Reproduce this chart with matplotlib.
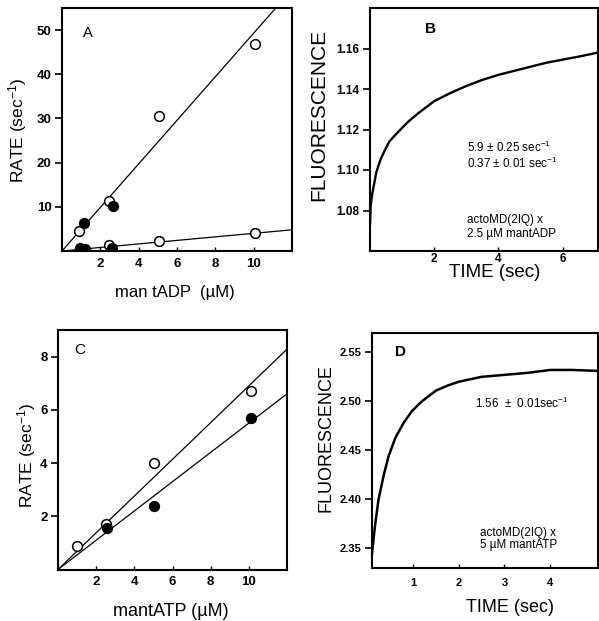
import matplotlib
matplotlib.use('Agg')
import matplotlib.pyplot as plt

plt.rcParams['font.family'] = ['Liberation Sans', 'DejaVu Sans']
plt.rcParams['mathtext.default'] = 'regular'

# --- A: rate vs mantADP (fast and slow phases) ---
a_open_x = [0.9, 2.45, 5.05, 10.05]
a_open_fast = [4.6, 11.4, 30.5, 46.8]
a_open_slow_x = [0.95, 2.45, 5.05, 10.05]
a_open_slow = [0.7, 1.3, 2.2, 4.0]
a_fill_x = [1.15, 2.65]
a_fill_fast = [6.3, 10.2]
a_fill_slow_x = [0.95, 1.2, 2.62]
a_fill_slow = [0.5, 0.5, 0.7]
a_slopes = [4.93, 0.40]

# --- B: fluorescence trace, 2.5 uM mantADP ---
b_time = [0.0, 0.02, 0.05, 0.09, 0.14, 0.19, 0.26, 0.35, 0.47, 0.6, 0.77, 0.95,
          1.2, 1.5, 2.0, 2.5, 3.0, 3.5, 4.0, 4.5, 5.0, 5.5, 6.0, 6.5, 7.1]
b_fluor = [1.073, 1.082, 1.086, 1.090, 1.094, 1.0985, 1.102, 1.106, 1.110, 1.114,
           1.117, 1.120, 1.124, 1.128, 1.134, 1.138, 1.1415, 1.1445, 1.147, 1.149,
           1.151, 1.153, 1.1545, 1.156, 1.158]

# --- C: rate vs mantATP ---
c_open_x = [1.0, 2.5, 5.05, 10.1]
c_open_y = [0.9, 1.7, 4.0, 6.7]
c_fill_x = [2.55, 5.05, 10.1]
c_fill_y = [1.55, 2.37, 5.7]
c_slopes = [0.69, 0.55]

# --- D: fluorescence trace, 5 uM mantATP ---
d_time = [0.09, 0.12, 0.17, 0.24, 0.35, 0.46, 0.61, 0.79, 0.97, 1.19, 1.5,
          1.75, 2.0, 2.5, 3.0, 3.5, 4.0, 4.5, 5.05]
d_fluor = [2.342, 2.355, 2.376, 2.400, 2.424, 2.444, 2.463, 2.478, 2.490, 2.500,
           2.511, 2.516, 2.520, 2.525, 2.527, 2.529, 2.532, 2.532, 2.531]

W, H = 599, 621
fig = plt.figure(figsize=(W / 100, H / 100), dpi=100)


def box(left, top, right, bottom):
    return [left / W, 1 - bottom / H, (right - left) / W, (bottom - top) / H]


def ftext(x, y, s, **kw):
    fig.text(x / W, 1 - y / H, s, **kw)


def style(ax, size, xpad):
    for sp in ax.spines.values():
        sp.set_linewidth(1.5)
    ax.tick_params(axis='y', direction='out', length=5, width=1.2, labelsize=size, pad=2.5)
    ax.tick_params(axis='x', direction='in', length=3, width=1.0, labelsize=size, pad=xpad)
    for lab in ax.get_xticklabels() + ax.get_yticklabels():
        lab.set_fontweight('bold')


circ = dict(marker='o', ms=7, ls='none', mew=1.1)

# panel A
axA = fig.add_axes(box(62, 8, 292, 251))
for s in a_slopes:
    axA.axline((0, 0), slope=s, color='black', lw=0.9)
axA.plot(a_open_x, a_open_fast, mfc='white', mec='black', **circ)
axA.plot(a_open_slow_x, a_open_slow, mfc='white', mec='black', **circ)
axA.plot(a_fill_x, a_fill_fast, mfc='black', mec='black', **circ)
axA.plot(a_fill_slow_x, a_fill_slow, mfc='black', mec='black', **circ)
axA.set_xlim(0, 12)
axA.set_ylim(0, 55)
axA.set_xticks([2, 4, 6, 8, 10])
axA.set_yticks([10, 20, 30, 40, 50])
style(axA, 9.5, 5)

# panel B
axB = fig.add_axes(box(370, 8, 598, 251))
axB.plot(b_time, b_fluor, color='black', lw=1.7, solid_joinstyle='round')
axB.set_xlim(0, 7.1)
axB.set_ylim(1.06, 1.18)
axB.set_xticks([2, 4, 6])
axB.set_yticks([1.08, 1.10, 1.12, 1.14, 1.16])
axB.set_yticklabels(['1.08', '1.10', '1.12', '1.14', '1.16'])
style(axB, 8.5, 1.5)

# panel C
axC = fig.add_axes(box(58, 330, 287, 569.5))
for s in c_slopes:
    axC.axline((0, 0), slope=s, color='black', lw=0.9)
axC.plot(c_open_x, c_open_y, mfc='white', mec='black', **circ)
axC.plot(c_fill_x, c_fill_y, mfc='black', mec='black', **circ)
axC.set_xlim(0, 12)
axC.set_ylim(0, 9)
axC.set_xticks([2, 4, 6, 8, 10])
axC.set_yticks([2, 4, 6, 8])
style(axC, 9.5, 5)

# panel D
axD = fig.add_axes(box(371.7, 332.7, 598, 568))
axD.plot(d_time, d_fluor, color='black', lw=1.8, solid_joinstyle='round')
axD.set_xlim(0.09, 5.05)
axD.set_ylim(2.33, 2.57)
axD.set_xticks([1, 2, 3, 4])
axD.set_yticks([2.35, 2.40, 2.45, 2.50, 2.55])
axD.set_yticklabels(['2.35', '2.40', '2.45', '2.50', '2.55'])
style(axD, 8, 7.5)

# axis titles
ftext(18, 130, 'RATE (sec$^{-1}$)', rotation=90, ha='center', va='center', fontsize=12.5)
ftext(175, 292, 'man tADP  (µM)', ha='center', va='center', fontsize=12)
ftext(319, 115, 'FLUORESCENCE', rotation=90, ha='center', va='center', fontsize=15)
ftext(495, 273, 'TIME (sec)', ha='center', va='center', fontsize=13.5)
ftext(27, 455, 'RATE (sec$^{-1}$)', rotation=90, ha='center', va='center', fontsize=12.5)
ftext(171, 612, 'mantATP (µM)', ha='center', va='center', fontsize=13)
ftext(326, 438, 'FLUORESCENCE', rotation=90, ha='center', va='center', fontsize=13)
ftext(510, 607, 'TIME (sec)', ha='center', va='center', fontsize=13)

# panel letters
ftext(88, 33, 'A', ha='center', va='center', fontsize=10.5)
ftext(430, 29, 'B', ha='center', va='center', fontsize=11, fontweight='bold')
ftext(80, 350, 'C', ha='center', va='center', fontsize=11)
ftext(400, 352, 'D', ha='center', va='center', fontsize=11, fontweight='bold')

# rate constants and conditions
note = dict(ha='left', va='center', fontsize=8.4)
ftext(467, 147, '5.9 ± 0.25 sec$^{-1}$', **note)
ftext(467, 163, '0.37 ± 0.01 sec$^{-1}$', **note)
ftext(467, 220, 'actoMD(2IQ) x', **note)
ftext(467, 234, '2.5 µM mantADP', **note)
ftext(475, 403, '1.56  ±  0.01sec$^{-1}$', **note)
ftext(480, 533, 'actoMD(2IQ) x', **note)
ftext(480, 545, '5 µM mantATP', **note)

fig.savefig('out.png', dpi=100)
